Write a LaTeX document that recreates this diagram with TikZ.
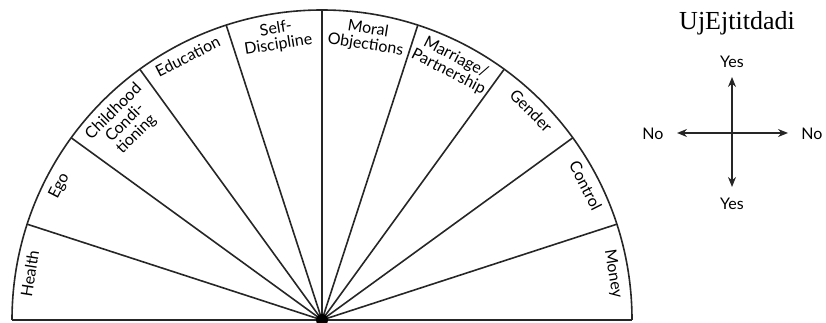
\documentclass[tikz,border=0pt]{standalone}
\usepackage{fontspec}
\setmainfont{Lato}
\newfontfamily\titlefont{Liberation Serif}
\usetikzlibrary{arrows.meta,calc}
\begin{document}
\begin{tikzpicture}[x=1pt,y=1pt,
  fan/.style={line width=1.6pt, black!85},
  lab/.style={font=\fontsize{16}{16}\selectfont, inner sep=0pt, anchor=north, align=center, text=black},
  yn/.style={font=\fontsize{16}{16}\selectfont, inner sep=0pt, text=black},
  cross/.style={line width=1.3pt, black!85, {Stealth[length=10pt,width=8pt]}-{Stealth[length=10pt,width=8pt]}}]
\useasboundingbox (0,0) rectangle (826,323);
\coordinate (O) at (322,3);
\draw[fan] (O) ++(-310,0) coordinate (L) arc[start angle=180,end angle=0,radius=310] coordinate (R);
\draw[fan] (L) -- (R);
\foreach \a in {18,36,...,162} \draw[fan] (O) -- ++(\a:310);
\fill[black] (O) circle (6);
\def\rr{302}
\node[lab, rotate=81]  (health) at ($(O)+(171:\rr)$) {Health};
\node[lab, rotate=63]  (ego)    at ($(O)+(153:\rr)$) {Ego};
\node[lab, rotate=45]  (child)  at ($(O)+(135:\rr)$) {Childhood\\Condi-\\tioning};
\node[lab, rotate=27]  (edu)    at ($(O)+(117:\rr)$) {Education};
\node[lab, rotate=9]   (self)   at ($(O)+(99:\rr)$)  {Self-\\Discipline};
\node[lab, rotate=-9]  (moral)  at ($(O)+(81:\rr)$)  {Moral\\Objections};
\node[lab, rotate=-27] (marr)   at ($(O)+(63:\rr)$)  {Marriage/\\Partnership};
\node[lab, rotate=-45] (gender) at ($(O)+(45:\rr)$)  {Gender};
\node[lab, rotate=-63] (ctrl)   at ($(O)+(27:\rr)$)  {Control};
\node[lab, rotate=-81] (money)  at ($(O)+(9:\rr)$)   {Money};
% title
\node[font=\titlefont\fontsize{26}{26}\selectfont, inner sep=0pt, text=black] (title) at (737,300) {UjEjtitdadi};
% cross
\coordinate (T) at (732,246);
\coordinate (B) at (732,136);
\coordinate (Lf) at (677,190);
\coordinate (Rt) at (788,190);
\draw[cross] (T) -- (B);
\draw[cross] (Lf) -- (Rt);
\node[yn] (yes1) at (732,261) {Yes};
\node[yn] (yes2) at (732,119) {Yes};
\node[yn] (no1) at (653,189) {No};
\node[yn] (no2) at (812,189) {No};
\end{tikzpicture}
\end{document}
